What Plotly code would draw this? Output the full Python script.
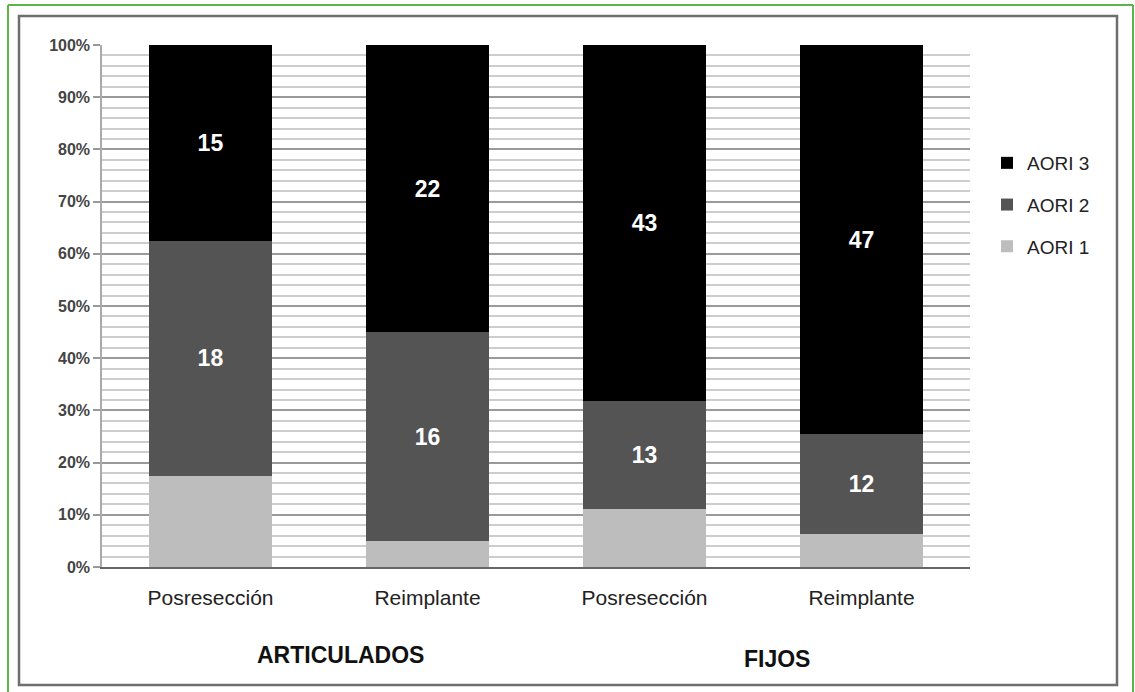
import plotly.graph_objects as go

# Stacked proportions of AORI grades by prosthesis type and stage
groups = ["ARTICULADOS", "FIJOS"]
categories = ["Posresección", "Reimplante", "Posresección", "Reimplante"]
aori1 = [7, 2, 7, 4]
aori2 = [18, 16, 13, 12]
aori3 = [15, 22, 43, 47]
y_tick_vals = [0, 10, 20, 30, 40, 50, 60, 70, 80, 90, 100]
y_tick_text = ["0%", "10%", "20%", "30%", "40%", "50%", "60%", "70%", "80%", "90%", "100%"]

W, H = 1135, 692
L, R, T, B = 102, 165, 45, 125
PW, PH = W - L - R, H - T - B


def px_x(x):
    return (x - L) / PW


def px_y(y):
    return (H - B - y) / PH


x_pos = list(range(len(categories)))
label_font = dict(family="Liberation Sans", size=23, color="white", weight="bold")

fig = go.Figure()
# (name, counts, colour, labels, legend rank) - grade 3 listed first in the legend
series = [
    ("AORI 1", aori1, "#bdbdbd", None, 3),
    ("AORI 2", aori2, "#545454", [str(v) for v in aori2], 2),
    ("AORI 3", aori3, "#000000", [str(v) for v in aori3], 1),
]
for name, vals, color, txt, rank in series:
    fig.add_trace(go.Bar(
        name=name, x=x_pos, y=vals, marker=dict(color=color, line=dict(width=0)),
        text=txt, textposition="inside" if txt else "none",
        insidetextanchor="middle", textangle=0, textfont=label_font,
        constraintext="none", width=0.57, legendgroup=name, legendrank=rank,
    ))

fig.update_layout(
    width=W, height=H, barmode="stack", barnorm="percent",
    margin=dict(l=L, r=R, t=T, b=B),
    paper_bgcolor="white", plot_bgcolor="white",
    showlegend=True,
    legend=dict(
        x=px_x(987), y=px_y(144), xanchor="left", yanchor="top",
        traceorder="grouped", tracegroupgap=14,
        font=dict(family="Liberation Sans", size=19, color="#222"),
        itemwidth=30, bgcolor="rgba(0,0,0,0)",
    ),
    xaxis=dict(
        tickmode="array", tickvals=x_pos, ticktext=categories,
        range=[-0.5, 3.5], showgrid=False, ticks="",
        tickfont=dict(family="Liberation Sans", size=21, color="#222"),
        ticklabelstandoff=11,
        showline=True, linecolor="#666", linewidth=2,
    ),
    yaxis=dict(
        range=[0, 100], tickvals=y_tick_vals, ticktext=y_tick_text,
        ticks="outside", ticklen=7, tickcolor="#999", tickwidth=1.5,
        tickfont=dict(family="Liberation Sans", size=16, color="#444", weight="bold"),
        showgrid=True, gridcolor="#9a9a9a", gridwidth=1.5,
        minor=dict(dtick=2, showgrid=True, gridcolor="#cdcdcd", gridwidth=2),
        showline=True, linecolor="#aaa", linewidth=1.5, zeroline=False,
    ),
)

# group labels beneath the stage labels
for text, cx, cy in [(groups[0], 340, 655), (groups[1], 777, 659)]:
    fig.add_annotation(
        text=text, x=px_x(cx), y=px_y(cy), xref="paper", yref="paper",
        showarrow=False, xanchor="center", yanchor="middle",
        font=dict(family="Liberation Sans", size=23, color="#111", weight="bold"),
    )

# frames around the figure
fig.add_shape(type="rect", xref="paper", yref="paper",
              x0=px_x(19), x1=px_x(1117), y0=px_y(685), y1=px_y(16),
              line=dict(color="#6e6e6e", width=2.5), layer="below")
for x0, y0, x1, y1 in [(8, 5, 8, 692), (8, 5, 1133, 5), (1133, 5, 1133, 692)]:
    fig.add_shape(type="line", xref="paper", yref="paper",
                  x0=px_x(x0), x1=px_x(x1), y0=px_y(y0), y1=px_y(y1),
                  line=dict(color="#5bb548", width=2))

fig.write_html("out.html")
